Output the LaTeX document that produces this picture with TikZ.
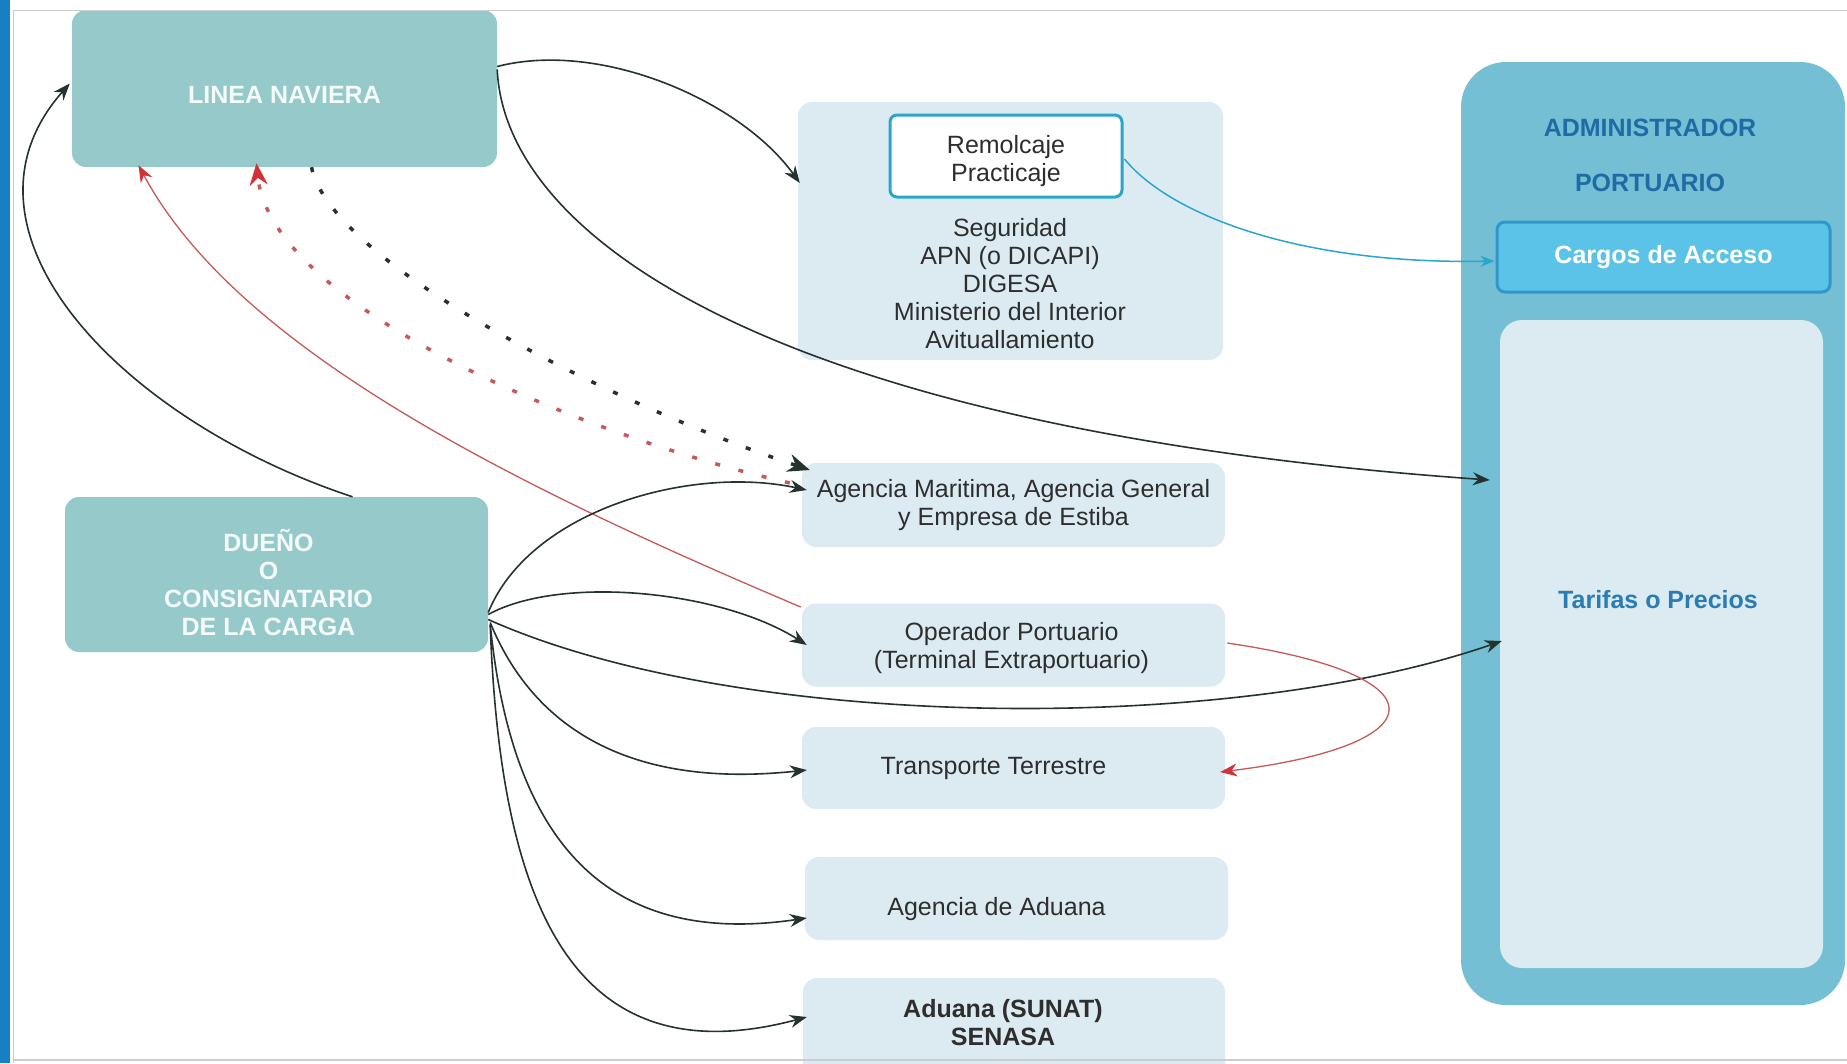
\documentclass[tikz,border=0pt]{standalone}
\usepackage{fontspec}
\setmainfont{Liberation Sans}
\usetikzlibrary{arrows.meta,calc}

\definecolor{tealbox}{HTML}{96C9CA}
\definecolor{lightbox}{HTML}{DCEBF2}
\definecolor{admband}{HTML}{74BFD3}
\definecolor{cargofill}{HTML}{5CC3E8}
\definecolor{cargoline}{HTML}{2E98C8}
\definecolor{remolline}{HTML}{2AA6CB}
\definecolor{admtext}{HTML}{1E6BA5}
\definecolor{tarifatext}{HTML}{2A7DB2}
\definecolor{arrowdark}{HTML}{26322F}
\definecolor{arrowred}{HTML}{D2333A}
\definecolor{linered}{HTML}{C65A5A}
\definecolor{framebar}{HTML}{1A7EC2}

\begin{document}
\begin{tikzpicture}[x=1pt,y=1pt,yscale=-1,
  firmbox/.style={fill=tealbox,rounded corners=14pt,inner sep=0pt},
  firmtext/.style={inner sep=0pt,align=center,text=white!90!tealbox,font=\fontsize{25}{28}\selectfont\bfseries},
  servbox/.style={fill=lightbox,rounded corners=14pt,inner sep=0pt,minimum width=423pt},
  servtext/.style={inner sep=0pt,align=center,text=black!82,font=\fontsize{25}{28}\selectfont},
  link/.style={draw=arrowdark,line width=1.6pt,-{Stealth[length=17pt,width=13pt]}},
  redlink/.style={draw=linered,line width=1.3pt,-{Stealth[length=17pt,width=13pt,color=arrowred]}},
  dotlink/.style={draw=arrowdark,line width=3.5pt,dash pattern=on 5pt off 19pt,-{Stealth[length=22pt,width=18pt]}},
  reddot/.style={draw=linered,line width=3.5pt,dash pattern=on 5pt off 19pt,-{Stealth[length=22pt,width=18pt,color=arrowred]}},
  cyanlink/.style={draw=remolline,line width=1.5pt,-{Stealth[length=14pt,width=11pt]}}]
\useasboundingbox (0,0) rectangle (1847,1063);
\fill[white] (0,0) rectangle (1847,1063);

% Left side
\node[firmbox,minimum width=425pt,minimum height=157pt] (linea) at (284.5,88.5) {};
\node[firmtext] (lineatext) at ($(linea)+(0,6)$) {LINEA NAVIERA};
\node[firmbox,minimum width=423pt,minimum height=155pt] (dueno) at (276.5,574.5) {};
\node[firmtext] (duenotext) at ($(dueno)+(-8,8)$) {DUEÑO\\O\\CONSIGNATARIO\\DE LA CARGA};

% Middle column
\node[servbox,minimum width=425pt,minimum height=258pt] (serv) at (1010.5,231) {};
\node[draw=remolline,line width=3pt,fill=white,rounded corners=7pt,minimum width=232pt,minimum height=82pt] (remol) at (1006,156) {};
\node[servtext] (remoltext) at ($(remol)+(0,5)$) {Remolcaje\\Practicaje};
\node[servtext] (servlist) at (1010,283.5) {Seguridad\\APN (o DICAPI)\\DIGESA\\Ministerio del Interior\\Avituallamiento};
\node[servbox,minimum height=84pt,servtext] (agencia) at (1013.5,505) {Agencia Maritima, Agencia General\\y Empresa de Estiba};
\node[servbox,minimum height=83pt] (operador) at (1013.5,645) {};
\node[servtext] (operadortext) at ($(operador)+(-2,3)$) {Operador Portuario\\(Terminal Extraportuario)};
\node[servbox,minimum height=82pt] (transporte) at (1013.5,768) {};
\node[servtext] (transportetext) at ($(transporte)+(-20,0)$) {Transporte Terrestre};
\node[servbox,minimum height=83pt] (aduana) at (1016.5,898.5) {};
\node[servtext] (aduanatext) at ($(aduana)+(-20,11)$) {Agencia de Aduana};
\node[servbox,minimum width=422pt,minimum height=100pt] (sunat) at (1014,1028) {};
\node[servtext,font=\fontsize{25}{28}\selectfont\bfseries] (sunattext) at (1003,1023) {Aduana (SUNAT)\\SENASA};

% Administrador portuario
\node[fill=admband,rounded corners=45pt,minimum width=384pt,minimum height=943pt] (admin) at (1653,533.5) {};
\node[align=center,inner sep=0pt,text=admtext,font=\fontsize{25}{28}\selectfont\bfseries] (admtitle) at (1650,155.5)
  {ADMINISTRADOR\\[27pt]PORTUARIO};
\node[fill=cargofill,draw=cargoline,line width=3pt,rounded corners=8pt,minimum width=333pt,minimum height=70pt,
  inner sep=0pt,text=white,font=\fontsize{25}{28}\selectfont\bfseries] (cargos) at (1663.5,257) {Cargos de Acceso};
\node[fill=lightbox,rounded corners=22pt,minimum width=323pt,minimum height=648pt] (tarifas) at (1661.5,644) {};
\node[inner sep=0pt,text=tarifatext,font=\fontsize{25}{28}\selectfont\bfseries] (tarifastext) at (1658,600) {Tarifas o Precios};

% Connections from LINEA NAVIERA
\draw[link] ($(dueno.north)+(76,0)$) .. controls (120,420) and (-60,230) .. ($(linea.west)+(-2,-5)$);
\draw[link] ($(linea.east)+(0,-22)$) .. controls (600,40) and (740,100) .. ($(serv.west)+(2,-48)$);
\draw[link] ($(linea.east)+(0,-19)$) .. controls (505,240) and (780,430) .. ($(tarifas.west)+(-10,-164)$);
\draw[dotlink] ($(linea.south)+(27,0)$) .. controls (330,260) and (600,400) .. ($(agencia.west)+(8,-35)$);
\draw[reddot] ($(agencia.west)+(-12,-22)$) .. controls (560,430) and (270,300) .. ($(linea.south)+(-28,-4)$);
\draw[redlink] ($(operador.west)+(-1,-38)$) .. controls (500,480) and (235,345) .. ($(linea.south)+(-146,-2)$);
\draw[cyanlink] ($(remol.east)+(1,3)$) .. controls (1170,215) and (1300,265) .. ($(cargos.west)+(-1,4)$);

% Connections from DUEÑO
\draw[link] ($(dueno.east)+(0,38)$) .. controls (530,510) and (690,465) .. ($(agencia.west)+(5,-15)$);
\draw[link] ($(dueno.east)+(0,40)$) .. controls (560,575) and (720,590) .. ($(operador.west)+(5,0)$);
\draw[link] ($(dueno.east)+(0,45)$) .. controls (740,732) and (1230,735) .. ($(tarifas.west)+(2,-3)$);
\draw[link] ($(dueno.east)+(2,48)$) .. controls (530,720) and (620,790) .. ($(transporte.west)+(5,2)$);
\draw[link] ($(dueno.east)+(2,50)$) .. controls (510,820) and (590,950) .. ($(aduana.west)+(2,19.5)$);
\draw[link] ($(dueno.east)+(2,50)$) .. controls (500,900) and (570,1080) .. ($(sunat.west)+(4,-11)$);
\draw[redlink] ($(operador.east)+(2,-2)$) .. controls (1445,675) and (1440,745) .. ($(transporte.east)+(-5,4)$);

% Frame
\fill[framebar] (0,0) rectangle (10,1063);
\draw[black!20,line width=1pt] (13,1063) -- (13,10) -- (1847,10);
\draw[black!20,line width=1.5pt] (13,1060) -- (1847,1060);
\end{tikzpicture}
\end{document}
